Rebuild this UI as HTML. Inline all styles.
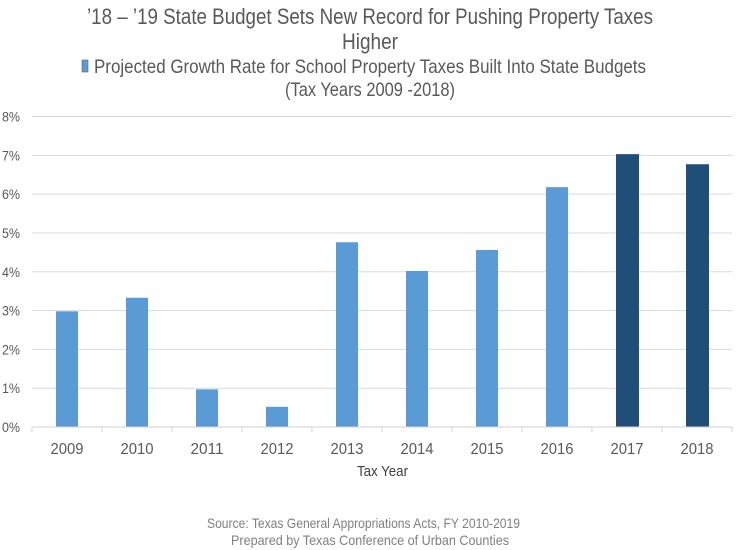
<!DOCTYPE html>
<html>
<head>
<meta charset="utf-8">
<style>
html,body{margin:0;padding:0;background:#fff;}
svg{display:block;font-family:"Liberation Sans",sans-serif;}
</style>
</head>
<body>
<svg id="chart" width="737" height="550" viewBox="0 0 737 550" xmlns="http://www.w3.org/2000/svg">
<rect width="737" height="550" fill="#ffffff"/>
<text x="87" y="24" font-size="22" fill="#595959" textLength="566" lengthAdjust="spacingAndGlyphs">’18 – ’19 State Budget Sets New Record for Pushing Property Taxes</text>
<text x="342" y="49" font-size="22" fill="#595959" textLength="56" lengthAdjust="spacingAndGlyphs">Higher</text>
<rect x="82" y="60" width="6" height="12" fill="#5b9bd5" stroke="#41719c" stroke-width="0.6"/>
<text x="94" y="73" font-size="19.5" fill="#595959" textLength="552" lengthAdjust="spacingAndGlyphs">Projected Growth Rate for School Property Taxes Built Into State Budgets</text>
<text x="285" y="96" font-size="19.5" fill="#595959" textLength="170" lengthAdjust="spacingAndGlyphs">(Tax Years 2009 -2018)</text>
<g id="grid"></g>
<g id="yticks"></g>
<g id="bars"></g>
<g id="xaxis"></g>
<text x="357" y="476" font-size="15" fill="#404040" textLength="51" lengthAdjust="spacingAndGlyphs">Tax Year</text>
<text x="207" y="528" font-size="14" fill="#808080" textLength="313" lengthAdjust="spacingAndGlyphs">Source: Texas General Appropriations Acts, FY 2010-2019</text>
<text x="231" y="545" font-size="14" fill="#808080" textLength="278" lengthAdjust="spacingAndGlyphs">Prepared by Texas Conference of Urban Counties</text>
</svg>
<script>
const categories = ["2009","2010","2011","2012","2013","2014","2015","2016","2017","2018"];
const growthRates = [2.98,3.33,0.97,0.52,4.76,4.02,4.56,6.18,7.03,6.77];
const barGroups = ["a","a","a","a","a","a","a","a","b","b"];
const yTicks = [0,1,2,3,4,5,6,7,8];
const yTickLabels = ["0%","1%","2%","3%","4%","5%","6%","7%","8%"];

const NS = "http://www.w3.org/2000/svg";
const plotLeft = 32, plotRight = 732, plotBottom = 427, plotTop = 116.5, yMax = 8;
const groupWidths = {a:22, b:23};
const groupColors = {a:"#5b9bd5", b:"#1f4e79"};
function yScale(v){ return plotBottom - (v / yMax) * (plotBottom - plotTop); }
function xBand(){ return (plotRight - plotLeft) / categories.length; }
function xEdge(i){ return plotLeft + i * xBand(); }
function xCenter(i){ return xEdge(i) + xBand() / 2; }
function make(tag, attrs){
  const el = document.createElementNS(NS, tag);
  for (const k in attrs) el.setAttribute(k, attrs[k]);
  return el;
}
const grid = document.getElementById("grid");
const yt = document.getElementById("yticks");
yTicks.forEach((t, i) => {
  if (t !== 0) {
    const line = make("line", {x1: plotLeft, x2: plotRight, y1: yScale(t), y2: yScale(t), stroke: "#d9d9d9", "stroke-width": 1});
    
    
    grid.appendChild(line);
  }
  const label = make("text", {x: 2, y: yScale(t) + 5, "font-size": 14, fill: "#595959", textLength: 18, lengthAdjust: "spacingAndGlyphs"});
  
  
  label.textContent = yTickLabels[i];
  yt.appendChild(label);
});
const bars = document.getElementById("bars");
categories.forEach((c, i) => {
  const w = groupWidths[barGroups[i]];
  const bar = make("rect", {x: xCenter(i) - 11, y: yScale(growthRates[i]), width: w, height: plotBottom - yScale(growthRates[i]), fill: groupColors[barGroups[i]]});
  
  
  bars.appendChild(bar);
});
const xa = document.getElementById("xaxis");
const axisLine = make("line", {x1: plotLeft, x2: plotRight, y1: plotBottom, y2: plotBottom, stroke: "#d0d0d0", "stroke-width": 1});


xa.appendChild(axisLine);
for (let i = 0; i <= categories.length; i++) {
  const tick = make("line", {x1: xEdge(i), x2: xEdge(i), y1: plotBottom, y2: plotBottom + 5, stroke: "#d0d0d0", "stroke-width": 1});
  
  
  xa.appendChild(tick);
}
categories.forEach((c, i) => {
  const label = make("text", {x: xCenter(i) - 16.5, y: 454, "font-size": 15.5, fill: "#595959", textLength: 33, lengthAdjust: "spacingAndGlyphs"});
  
  
  label.textContent = c;
  xa.appendChild(label);
});
</script>
</body>
</html>
